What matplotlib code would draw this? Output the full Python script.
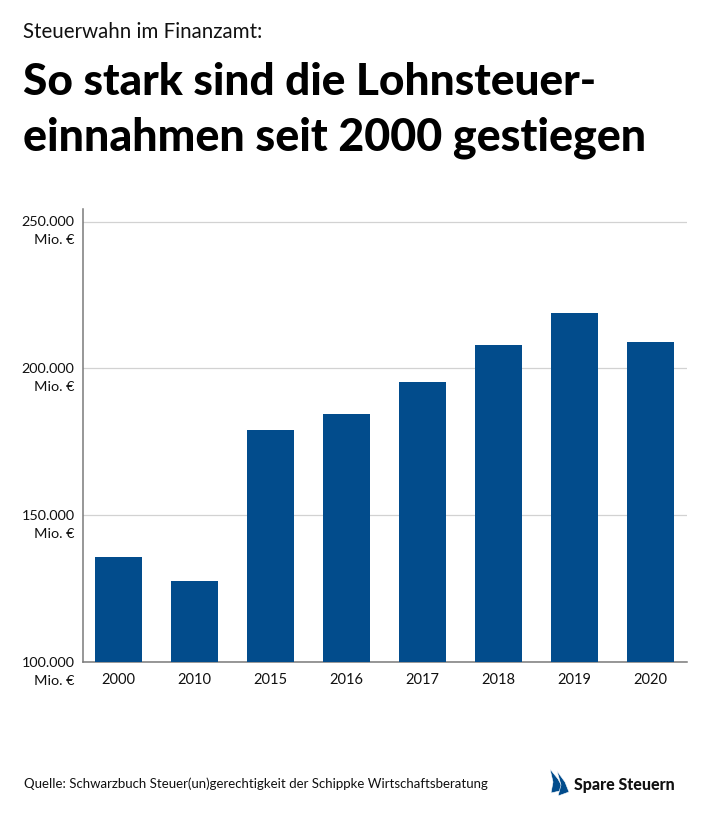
import matplotlib
matplotlib.use("Agg")
import matplotlib.pyplot as plt
from matplotlib.patches import Polygon

years = ["2000", "2010", "2015", "2016", "2017", "2018", "2019", "2020"]
values = [135600, 127600, 178900, 184600, 195500, 208100, 219000, 209000]
yticks = [100000, 150000, 200000, 250000]
ytick_labels = ["100.000\nMio. €", "150.000\nMio. €", "200.000\nMio. €", "250.000\nMio. €"]

W, H = 710, 815
BLUE = "#024c8c"
plt.rcParams["font.family"] = ["Lato", "DejaVu Sans"]
fig = plt.figure(figsize=(W / 100, H / 100), dpi=100)

def fx(x): return x / W
def fy(y): return 1 - y / H

ax = fig.add_axes([fx(83), fy(662), (687 - 83) / W, (662 - 209) / H])
ax.bar(range(len(years)), values, width=0.62, color=BLUE, zorder=3)
ax.set_xlim(-0.467, 7.48)
ax.set_ylim(100000, 254300)
ax.set_yticks(yticks)
ax.set_yticklabels([])
ax.set_xticks(range(len(years)))
ax.set_xticklabels(years, fontsize=10.5, color="#111111")
ax.tick_params(axis="both", length=0)
ax.tick_params(axis="x", pad=8)
ax.grid(axis="y", color="#d2d2d2", lw=0.9, zorder=0)
ax.set_axisbelow(True)
for s in ["top", "right"]:
    ax.spines[s].set_visible(False)
for s in ["left", "bottom"]:
    ax.spines[s].set_color("#7a7a7a")
    ax.spines[s].set_linewidth(1.1)

for t, lab in zip(yticks, ytick_labels):
    a, b = lab.split("\n")
    ax.annotate(a, (0, t), xycoords=("axes fraction", "data"), xytext=(-6, -0.5), textcoords="offset points",
                ha="right", va="center", fontsize=10.4, color="#111111", annotation_clip=False)
    ax.annotate(b, (0, t), xycoords=("axes fraction", "data"), xytext=(-6, -13.5), textcoords="offset points",
                ha="right", va="center", fontsize=10.4, color="#111111", annotation_clip=False)

fig.text(fx(23), fy(32), "Steuerwahn im Finanzamt:", fontsize=14.8, color="#111111", va="center", ha="left")
fig.text(fx(23), fy(82), "So stark sind die Lohnsteuer-", fontsize=31.8, fontweight=900, color="black", va="center", ha="left")
fig.text(fx(23), fy(138), "einnahmen seit 2000 gestiegen", fontsize=32.25, fontweight=900, color="black", va="center", ha="left")
fig.text(fx(24), fy(784), "Quelle: Schwarzbuch Steuer(un)gerechtigkeit der Schippke Wirtschaftsberatung",
         fontsize=9.52, color="#111111", va="center", ha="left")
fig.text(fx(574), fy(785), "Spare Steuern", fontsize=11.5, fontweight=900, color="#111111", va="center", ha="left")

sail1 = [(550, 769), (558, 779), (564, 790), (551, 793), (553, 782)]
sail2 = [(557, 771), (565, 782), (569, 792), (558, 796), (561, 785)]
for pts in (sail1, sail2):
    fig.add_artist(Polygon([(fx(x), fy(y)) for x, y in pts], closed=True, transform=fig.transFigure,
                           facecolor=BLUE, edgecolor="white", linewidth=0.4))
fig.savefig("out.png", dpi=100)
